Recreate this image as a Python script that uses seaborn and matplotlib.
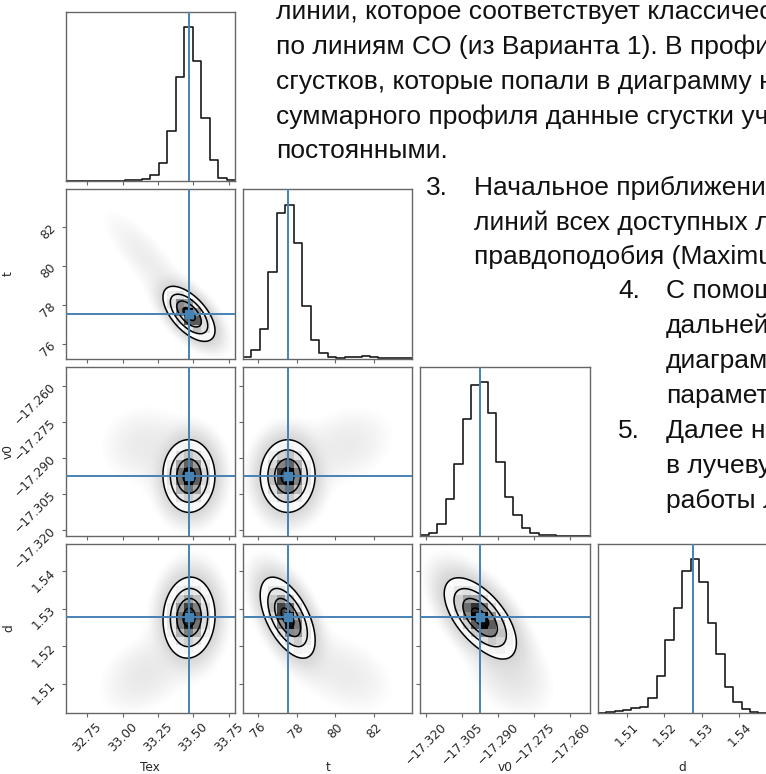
import numpy as np
import pandas as pd
import matplotlib
matplotlib.use("Agg")
import matplotlib.pyplot as plt
import seaborn as sns
from matplotlib import font_manager
from matplotlib.colors import LinearSegmentedColormap
from matplotlib.ticker import FixedLocator, NullLocator

# ---------------------------------------------------------------- data
names = ["Tex", "t", "v0", "d"]
ranges = [(32.597, 33.795), (75.25, 83.95), (-17.3225, -17.252), (1.5022, 1.5473)]
truths = [33.47, 77.54, -17.2976, 1.5277]

# marginal histograms (20 bins over each range, relative heights)
tex_counts = [0.2, 0.2, 0.3, 0.3, 0.4, 0.4, 0.5, 0.7, 1.0, 1.7,
              4.3, 12.2, 32.6, 68.0, 100.0, 78.0, 41.3, 13.7, 2.2, 0.7]
t_counts = [1.3, 5.4, 19.1, 56.5, 94.6, 100.0, 75.0, 33.9, 12.2, 3.9,
            0.9, 0.7, 0.9, 1.1, 1.5, 1.1, 0.7, 0.4, 0.3, 0.2]
v0_counts = [0.9, 2.2, 7.6, 23.8, 46.5, 76.2, 98.3, 100.0, 80.0, 48.0,
             25.1, 13.9, 5.4, 1.7, 0.6, 0.4, 0.2, 0.2, 0.1, 0.1]
d_counts = [0.2, 0.7, 1.3, 2.2, 3.5, 4.3, 10.0, 24.0, 47.4, 68.5,
            92.4, 100.0, 85.0, 58.3, 38.7, 17.0, 7.4, 2.8, 0.9, 0.4]
hist_counts = [tex_counts, t_counts, v0_counts, d_counts]

# tick positions and labels
tex_ticks = [32.75, 33.00, 33.25, 33.50, 33.75]
t_ticks = [76, 78, 80, 82]
v0_ticks = [-17.320, -17.305, -17.290, -17.275, -17.260]
d_ticks = [1.51, 1.52, 1.53, 1.54]
tex_tick_labels = ["32.75", "33.00", "33.25", "33.50", "33.75"]
t_tick_labels = ["76", "78", "80", "82"]
v0_tick_labels = ["\u221217.320", "\u221217.305", "\u221217.290", "\u221217.275", "\u221217.260"]
d_tick_labels = ["1.51", "1.52", "1.53", "1.54"]
all_ticks = [tex_ticks, t_ticks, v0_ticks, d_ticks]
all_tick_labels = [tex_tick_labels, t_tick_labels, v0_tick_labels, d_tick_labels]

# joint posterior model: core, halo and tail components
comp_weights = [0.88, 0.08, 0.04]
comp_means = [[33.47, 77.54, -17.2976, 1.5277],
              [33.47, 77.54, -17.2976, 1.5277],
              [33.15, 80.50, -17.2850, 1.5125]]
comp_sds = [[0.082, 0.63, 0.0068, 0.0048],
            [0.130, 0.95, 0.0100, 0.0075],
            [0.160, 1.30, 0.0085, 0.0055]]
# correlations for pairs (Tex,t) (Tex,v0) (Tex,d) (t,v0) (t,d) (v0,d)
pair_order = [(0, 1), (0, 2), (0, 3), (1, 2), (1, 3), (2, 3)]
comp_corr = [[-0.60, 0.00, 0.05, 0.00, -0.55, -0.60],
             [-0.60, 0.00, 0.05, 0.00, -0.55, -0.60],
             [-0.80, 0.00, 0.35, 0.25, -0.35, -0.30]]

# running text of the page around the figure: (x px, baseline px, text)
page_lines = [
    (276, 19, "линии, которое соответствует классичес"),
    (276, 54, "по линиям CO (из Варианта 1). В профи"),
    (276, 89, "сгустков, которые попали в диаграмму н"),
    (276, 124, "суммарного профиля данные сгустки уч"),
    (276, 158, "постоянными."),
    (426, 195, "3."),
    (474, 195, "Начальное приближение"),
    (474, 230, "линий всех доступных л"),
    (474, 264, "правдоподобия (Maximu"),
    (618, 298, "4."),
    (666, 298, "С помощ"),
    (666, 333, "дальней"),
    (666, 368, "диаграм"),
    (666, 403, "параметр"),
    (618, 438, "5."),
    (666, 438, "Далее на"),
    (666, 473, "в лучеву"),
    (666, 508, "работы Л"),
]

# ---------------------------------------------------------------- style
sns.set_style("ticks")
plt.rcParams["font.family"] = ["DejaVu Sans"]
W, H = 766, 774
fig = plt.figure(figsize=(W / 100, H / 100), dpi=100)

avail = {f.name for f in font_manager.fontManager.ttflist}
doc_family = "Liberation Sans Narrow" if "Liberation Sans Narrow" in avail else "Liberation Sans"

ORIGIN_X, ORIGIN_Y = 65.7, 12.0
CELL, GAP = 169.3, 8.0
SPINE = "0.4"
TRUTH = "#4682b4"
TICK_FS = 8.8

sig = np.array([0.5, 1.0, 1.5, 2.0])
level_fracs = 1.0 - np.exp(-0.5 * sig ** 2)

density_cmap = LinearSegmentedColormap.from_list("density", [(1, 1, 1, 0), (0, 0, 0, 1)])


def panel_axes(row, col):
    left = ORIGIN_X + col * (CELL + GAP)
    top = ORIGIN_Y + row * (CELL + GAP)
    ax = fig.add_axes([left / W, 1 - (top + CELL) / H, CELL / W, CELL / H])
    for s in ax.spines.values():
        s.set_color(SPINE)
        s.set_linewidth(1.0)
    ax.tick_params(direction="out", length=3.2, width=0.8, color=SPINE,
                   labelsize=TICK_FS, pad=2)
    return ax


def pair_density(ix, iy, X, Y):
    a, b = (ix, iy) if ix < iy else (iy, ix)
    k = pair_order.index((a, b))
    D = np.zeros_like(X)
    for w, m, s, r in zip(comp_weights, comp_means, comp_sds, comp_corr):
        rho = r[k]
        zx = (X - m[ix]) / s[ix]
        zy = (Y - m[iy]) / s[iy]
        q = (zx ** 2 - 2 * rho * zx * zy + zy ** 2) / (1 - rho ** 2)
        D += w * np.exp(-0.5 * q) / (2 * np.pi * s[ix] * s[iy] * np.sqrt(1 - rho ** 2))
    return D


def style_ticks(ax, row, col, diag):
    ax.xaxis.set_major_locator(FixedLocator(all_ticks[col]))
    if row == 3:
        ax.set_xticklabels(all_tick_labels[col], rotation=45)
        ax.set_xlabel(names[col], fontsize=TICK_FS)
        ax.xaxis.set_label_coords(0.5, -0.285)
    else:
        ax.set_xticklabels([])
        ax.set_xlabel("")
    if diag:
        ax.yaxis.set_major_locator(NullLocator())
        ax.set_ylabel("")
    else:
        ax.yaxis.set_major_locator(FixedLocator(all_ticks[row]))
        if col == 0:
            ax.set_yticklabels(all_tick_labels[row], rotation=45)
            ax.set_ylabel(names[row], fontsize=TICK_FS)
            ax.yaxis.set_label_coords(-0.3, 0.5)
        else:
            ax.set_yticklabels([])
            ax.set_ylabel("")


for row in range(4):
    for col in range(row + 1):
        ax = panel_axes(row, col)
        xlo, xhi = ranges[col]
        if row == col:
            counts = np.array(hist_counts[col], dtype=float)
            edges = np.linspace(xlo, xhi, len(counts) + 1)
            hist_df = pd.DataFrame({"value": 0.5 * (edges[:-1] + edges[1:]), "count": counts})
            sns.histplot(data=hist_df, x="value", weights="count", bins=list(edges),
                         element="step", fill=False, color="0.1", linewidth=1.2, ax=ax)
            ax.axvline(truths[col], color=TRUTH, lw=1.4, zorder=4)
            ax.set_ylim(0, 1.1 * counts.max())
        else:
            ylo, yhi = ranges[row]
            # fine grid for the point cloud and contours
            gx = np.linspace(xlo, xhi, 240)
            gy = np.linspace(ylo, yhi, 240)
            GX, GY = np.meshgrid(gx, gy)
            D = pair_density(col, row, GX, GY)
            rel = D / D.max()
            alpha = 0.6 * np.clip((np.log10(rel + 1e-12) + 2.6) / 2.6, 0, 1) ** 1.3
            rgba = np.zeros(D.shape + (4,))
            rgba[..., :3] = 0.45
            rgba[..., 3] = alpha
            ax.imshow(rgba, extent=[xlo, xhi, ylo, yhi], origin="lower",
                      aspect="auto", interpolation="bilinear", zorder=0)

            flat = np.sort(D.ravel())[::-1]
            cum = np.cumsum(flat)
            cum /= cum[-1]
            V = np.sort([flat[min(np.searchsorted(cum, f), flat.size - 1)] for f in level_fracs])

            ax.contourf(GX, GY, D, levels=[V[0], D.max() * 1.01], colors=["white"], zorder=1)

            # 20x20 binned density shading
            xe = np.linspace(xlo, xhi, 21)
            ye = np.linspace(ylo, yhi, 21)
            CX, CY = np.meshgrid(0.5 * (xe[:-1] + xe[1:]), 0.5 * (ye[:-1] + ye[1:]))
            Hc = pair_density(col, row, CX, CY)
            cell_df = pd.DataFrame({"x": CX.ravel(), "y": CY.ravel(), "w": Hc.ravel()})
            sns.histplot(data=cell_df, x="x", y="y", weights="w", bins=[list(xe), list(ye)],
                         cmap=density_cmap, vmin=0, vmax=Hc.max(), ax=ax, zorder=2)

            ax.contour(GX, GY, D, levels=V, colors="k", linewidths=1.1, zorder=3)

            ax.axvline(truths[col], color=TRUTH, lw=1.4, zorder=4)
            ax.axhline(truths[row], color=TRUTH, lw=1.4, zorder=4)
            ax.plot(truths[col], truths[row], "s", color=TRUTH, ms=5.5, zorder=5)
            ax.set_ylim(ylo, yhi)
        ax.set_xlim(xlo, xhi)
        style_ticks(ax, row, col, row == col)

# ---------------------------------------------------------------- page text
for x, y, s in page_lines:
    fig.text(x / W, 1 - y / H, s, fontsize=19, family=[doc_family, "DejaVu Sans"],
             color="#111111", va="baseline", ha="left")

fig.savefig("out.png", dpi=100)
